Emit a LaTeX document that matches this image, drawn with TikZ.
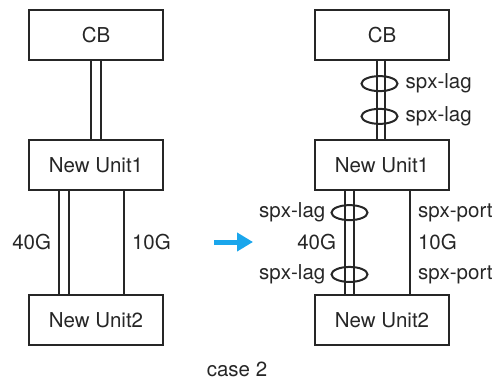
\documentclass[tikz,border=0pt]{standalone}
\usepackage{fontspec}
\setmainfont{TeX Gyre Heros}
\usepackage{tikz}
\usetikzlibrary{calc,arrows.meta,shapes.geometric,positioning}
\definecolor{sw-line}{HTML}{262626}
\definecolor{sw-arrow}{HTML}{1AA6EC}

\begin{document}
\begin{tikzpicture}[x=1pt, y=1pt,
    unit/.style={draw=sw-line, line width=2pt, minimum width=134pt, minimum height=50pt, inner sep=0pt, text=sw-line, font=\fontsize{20.5}{24}\selectfont},
    link/.style={draw=sw-line, line width=2pt},
    lagring/.style={ellipse, draw=sw-line, line width=2pt, minimum width=36pt, minimum height=15pt, inner sep=0pt},
    lbl/.style={text=sw-line, inner sep=1pt, font=\fontsize{20.5}{24}\selectfont}]
    \useasboundingbox (0,0) rectangle (497,381);
    % before
    \node[unit] (cbL) at (96,346) {CB};
    \node[unit] (unitL1) at (96,216) {New Unit1};
    \node[unit] (unitL2) at (96,61) {New Unit2};
    \draw[link] ([xshift=-5pt]cbL.south) -- ([xshift=-5pt]unitL1.north);
    \draw[link] ([xshift=5pt]cbL.south) -- ([xshift=5pt]unitL1.north);
    \draw[link] ([xshift=-37pt]unitL1.south) -- ([xshift=-37pt]unitL2.north) node[lbl, midway, left=6pt] {40G};
    \draw[link] ([xshift=-27pt]unitL1.south) -- ([xshift=-27pt]unitL2.north);
    \draw[link] ([xshift=28pt]unitL1.south) -- ([xshift=28pt]unitL2.north) node[lbl, midway, right=6pt] {10G};
    % arrow
    \coordinate (arrS) at (214,139);
    \coordinate (arrE) at (253,139);
    \draw[sw-arrow, line width=5pt, -{Triangle[length=16pt,width=18pt]}] (arrS) -- (arrE);
    % after
    \node[unit] (cbR) at (382,346) {CB};
    \node[unit] (unitR1) at (382,216) {New Unit1};
    \node[unit] (unitR2) at (382,61) {New Unit2};
    \draw[link] ([xshift=-5.5pt]cbR.south) -- ([xshift=-5.5pt]unitR1.north);
    \draw[link] ([xshift=2.5pt]cbR.south) -- ([xshift=2.5pt]unitR1.north);
    \draw[link] ([xshift=-37pt]unitR1.south) -- ([xshift=-37pt]unitR2.north) node[lbl, midway, left=7pt] {40G};
    \draw[link] ([xshift=-28pt]unitR1.south) -- ([xshift=-28pt]unitR2.north);
    \draw[link] ([xshift=28pt]unitR1.south) -- ([xshift=28pt]unitR2.north)
        node[lbl, pos=0.21, right=6pt] {spx-port}
        node[lbl, midway, right=6pt] {10G}
        node[lbl, pos=0.81, right=6pt] {spx-port};
    \node[lagring] (lagA) at ($(cbR.south)!0.29!(unitR1.north)+(-2.5,0)$) {};
    \node[lagring] (lagB) at ($(cbR.south)!0.71!(unitR1.north)+(-2.5,0)$) {};
    \node[lagring] (lagC) at ($(unitR1.south)!0.21!(unitR2.north)+(-32.5,0)$) {};
    \node[lagring] (lagD) at ($(unitR1.south)!0.81!(unitR2.north)+(-32.5,0)$) {};
    \node[lbl, right=6pt of lagA] (lagAtxt) {spx-lag};
    \node[lbl, right=6pt of lagB] (lagBtxt) {spx-lag};
    \node[lbl, left=4pt of lagC] (lagCtxt) {spx-lag};
    \node[lbl, left=4pt of lagD] (lagDtxt) {spx-lag};
    \node[lbl] (caption) at (237,12) {case 2};
\end{tikzpicture}
\end{document}
